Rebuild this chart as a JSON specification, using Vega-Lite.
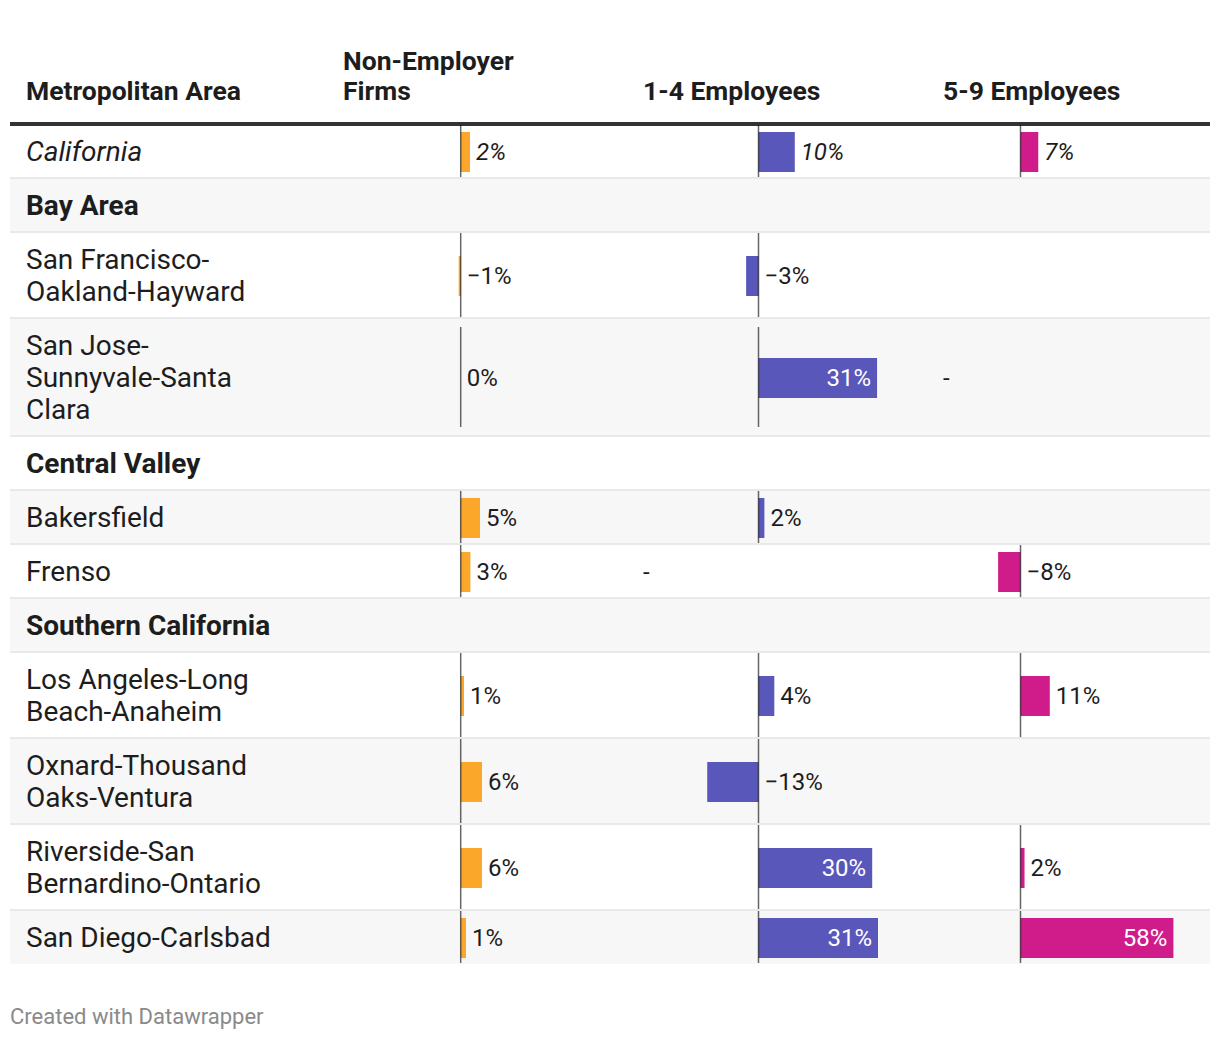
{
  "$schema": "https://vega.github.io/schema/vega-lite/v6.json",
  "background": "white",
  "padding": {"left": 10, "right": 10, "top": 48, "bottom": 6},
  "spacing": 0,
  "title": {"text": "Created with Datawrapper", "orient": "bottom", "anchor": "start", "frame": "bounds", "font": "Roboto", "fontSize": 22, "fontWeight": "normal", "color": "#8a8a8a", "offset": 43},
  "config": {
    "view": {"stroke": null},
    "text": {"font": "Roboto", "fontSize": 24, "color": "#1d1d1d"}
  },
  "data": {"values": [
    {"order": 1, "kind": "state", "label": ["California"], "ne": 0.0245, "e14": 0.0955, "e59": 0.067},
    {"order": 2, "kind": "region", "label": ["Bay Area"]},
    {"order": 3, "kind": "metro", "label": ["San Francisco-", "Oakland-Hayward"], "ne": -0.0053, "e14": -0.0326},
    {"order": 4, "kind": "metro", "label": ["San Jose-", "Sunnyvale-Santa", "Clara"], "ne": 0, "e14": 0.312, "e59_note": "-"},
    {"order": 5, "kind": "region", "label": ["Central Valley"]},
    {"order": 6, "kind": "metro", "label": ["Bakersfield"], "ne": 0.0508, "e14": 0.0155},
    {"order": 7, "kind": "metro", "label": ["Frenso"], "ne": 0.0255, "e14_note": "-", "e59": -0.0845},
    {"order": 8, "kind": "region", "label": ["Southern California"]},
    {"order": 9, "kind": "metro", "label": ["Los Angeles-Long", "Beach-Anaheim"], "ne": 0.0087, "e14": 0.0416, "e59": 0.1106},
    {"order": 10, "kind": "metro", "label": ["Oxnard-Thousand", "Oaks-Ventura"], "ne": 0.056, "e14": -0.1349},
    {"order": 11, "kind": "metro", "label": ["Riverside-San", "Bernardino-Ontario"], "ne": 0.056, "e14": 0.2992, "e59": 0.0152},
    {"order": 12, "kind": "metro", "label": ["San Diego-Carlsbad"], "ne": 0.0139, "e14": 0.3145, "e59": 0.577}
  ]},
  "transform": [
    {"calculate": "22 + 32 * length(datum.label)", "as": "h"},
    {"window": [{"op": "sum", "field": "h", "as": "bottom"}], "sort": [{"field": "order", "order": "ascending"}], "frame": [null, 0]},
    {"calculate": "datum.bottom - datum.h", "as": "top"},
    {"calculate": "datum.bottom - datum.h / 2", "as": "mid"},
    {"calculate": "datum.mid - (length(datum.label) - 1) * 16", "as": "ly"},
    {"calculate": "datum.mid - 20", "as": "b1"},
    {"calculate": "datum.mid + 20", "as": "b2"},
    {"calculate": "max(datum.top + 1, datum.mid - 50)", "as": "a1"},
    {"calculate": "min(datum.bottom - 1, datum.mid + 50)", "as": "a2"}
  ],
  "hconcat": [
    {
      "width": 317, "height": 840,
      "title": {"text": [" ", "Metropolitan Area"], "anchor": "start", "frame": "group", "dx": 16, "baseline": "bottom", "lineHeight": 30, "offset": -10, "font": "Roboto", "fontSize": 26.5, "fontWeight": "bold", "color": "#1d1d1d"},
      "layer": [
        {"transform": [{"filter": "datum.order % 2 === 0"}], "mark": {"type": "rect", "color": "#f7f7f7"}, "encoding": {"y": {"field": "top", "type": "quantitative", "scale": {"domain": [0, 840], "reverse": true, "nice": false, "zero": false}, "axis": null}, "y2": {"field": "bottom"}, "x": {"value": 0}, "x2": {"value": "width"}}},
        {"transform": [{"filter": "datum.order > 1"}], "mark": {"type": "rect", "color": "#e9e9e9", "yOffset": -1, "y2Offset": 1}, "encoding": {"y": {"field": "top", "type": "quantitative", "axis": null}, "y2": {"field": "top"}, "x": {"value": 0}, "x2": {"value": "width"}}},
        {"transform": [{"filter": "datum.order === 1"}], "mark": {"type": "rect", "color": "#333333", "yOffset": -2, "y2Offset": 2}, "encoding": {"y": {"datum": 0, "type": "quantitative", "axis": null}, "y2": {"datum": 0}, "x": {"value": 0}, "x2": {"value": "width"}}},
        {"mark": {"type": "text", "align": "left", "baseline": "middle", "dx": 16, "dy": 2, "fontSize": 28, "lineHeight": 32, "fontStyle": {"expr": "datum.kind === 'state' ? 'italic' : 'normal'"}, "fontWeight": {"expr": "datum.kind === 'region' ? 'bold' : 'normal'"}},
         "encoding": {"x": {"value": 0}, "y": {"field": "ly", "type": "quantitative", "axis": null}, "text": {"field": "label", "type": "nominal"}}}
      ]
    },
    {
      "width": 300, "height": 840,
      "title": {"text": ["Non-Employer", "Firms"], "anchor": "start", "frame": "group", "dx": 16, "baseline": "bottom", "lineHeight": 30, "offset": -10, "font": "Roboto", "fontSize": 26.5, "fontWeight": "bold", "color": "#1d1d1d"},
      "layer": [
        {"transform": [{"filter": "datum.order % 2 === 0"}], "mark": {"type": "rect", "color": "#f7f7f7"}, "encoding": {"y": {"field": "top", "type": "quantitative", "scale": {"domain": [0, 840], "reverse": true, "nice": false, "zero": false}, "axis": null}, "y2": {"field": "bottom"}, "x": {"value": 0}, "x2": {"value": "width"}}},
        {"transform": [{"filter": "datum.order > 1"}], "mark": {"type": "rect", "color": "#e9e9e9", "yOffset": -1, "y2Offset": 1}, "encoding": {"y": {"field": "top", "type": "quantitative", "axis": null}, "y2": {"field": "top"}, "x": {"value": 0}, "x2": {"value": "width"}}},
        {"transform": [{"filter": "datum.order === 1"}], "mark": {"type": "rect", "color": "#333333", "yOffset": -2, "y2Offset": 2}, "encoding": {"y": {"datum": 0, "type": "quantitative", "axis": null}, "y2": {"datum": 0}, "x": {"value": 0}, "x2": {"value": "width"}}},
        {"transform": [{"filter": "isValid(datum.ne)"}], "mark": {"type": "rect", "color": "#fba72a", "yOffset": 1, "y2Offset": 1},
         "encoding": {"x": {"field": "ne", "type": "quantitative", "scale": {"domain": [-0.35184, 0.43763], "nice": false, "zero": false}, "axis": null}, "x2": {"datum": 0}, "y": {"field": "b1", "type": "quantitative", "axis": null}, "y2": {"field": "b2"}}},
        {"transform": [{"filter": "isValid(datum.ne)"}], "mark": {"type": "rule", "color": "#000000", "opacity": 0.6, "strokeWidth": 1.5},
         "encoding": {"x": {"datum": 0, "type": "quantitative", "axis": null}, "y": {"field": "a1", "type": "quantitative", "axis": null}, "y2": {"field": "a2"}}},
        {"transform": [{"filter": "isValid(datum.ne) && datum.ne > 0 && datum.ne < 0.2"}], "mark": {"type": "text", "align": "left", "baseline": "middle", "dx": 6, "dy": 2, "fontStyle": {"expr": "datum.kind === 'state' ? 'italic' : 'normal'"}},
         "encoding": {"x": {"field": "ne", "type": "quantitative", "axis": null}, "y": {"field": "mid", "type": "quantitative", "axis": null}, "text": {"field": "ne", "type": "quantitative", "format": ".0%"}}},
        {"transform": [{"filter": "isValid(datum.ne) && datum.ne <= 0"}], "mark": {"type": "text", "align": "left", "baseline": "middle", "dx": 6, "dy": 2, "fontStyle": {"expr": "datum.kind === 'state' ? 'italic' : 'normal'"}},
         "encoding": {"x": {"datum": 0, "type": "quantitative", "axis": null}, "y": {"field": "mid", "type": "quantitative", "axis": null}, "text": {"field": "ne", "type": "quantitative", "format": ".0%"}}}
      ]
    },
    {
      "width": 300, "height": 840,
      "title": {"text": [" ", "1-4 Employees"], "anchor": "start", "frame": "group", "dx": 16, "baseline": "bottom", "lineHeight": 30, "offset": -10, "font": "Roboto", "fontSize": 26.5, "fontWeight": "bold", "color": "#1d1d1d"},
      "layer": [
        {"transform": [{"filter": "datum.order % 2 === 0"}], "mark": {"type": "rect", "color": "#f7f7f7"}, "encoding": {"y": {"field": "top", "type": "quantitative", "scale": {"domain": [0, 840], "reverse": true, "nice": false, "zero": false}, "axis": null}, "y2": {"field": "bottom"}, "x": {"value": 0}, "x2": {"value": "width"}}},
        {"transform": [{"filter": "datum.order > 1"}], "mark": {"type": "rect", "color": "#e9e9e9", "yOffset": -1, "y2Offset": 1}, "encoding": {"y": {"field": "top", "type": "quantitative", "axis": null}, "y2": {"field": "top"}, "x": {"value": 0}, "x2": {"value": "width"}}},
        {"transform": [{"filter": "datum.order === 1"}], "mark": {"type": "rect", "color": "#333333", "yOffset": -2, "y2Offset": 2}, "encoding": {"y": {"datum": 0, "type": "quantitative", "axis": null}, "y2": {"datum": 0}, "x": {"value": 0}, "x2": {"value": "width"}}},
        {"transform": [{"filter": "isValid(datum.e14)"}], "mark": {"type": "rect", "color": "#5a57bb", "yOffset": 1, "y2Offset": 1},
         "encoding": {"x": {"field": "e14", "type": "quantitative", "scale": {"domain": [-0.34605, 0.44342], "nice": false, "zero": false}, "axis": null}, "x2": {"datum": 0}, "y": {"field": "b1", "type": "quantitative", "axis": null}, "y2": {"field": "b2"}}},
        {"transform": [{"filter": "isValid(datum.e14)"}], "mark": {"type": "rule", "color": "#000000", "opacity": 0.6, "strokeWidth": 1.5},
         "encoding": {"x": {"datum": 0, "type": "quantitative", "axis": null}, "y": {"field": "a1", "type": "quantitative", "axis": null}, "y2": {"field": "a2"}}},
        {"transform": [{"filter": "isValid(datum.e14) && datum.e14 > 0 && datum.e14 < 0.2"}], "mark": {"type": "text", "align": "left", "baseline": "middle", "dx": 6, "dy": 2, "fontStyle": {"expr": "datum.kind === 'state' ? 'italic' : 'normal'"}},
         "encoding": {"x": {"field": "e14", "type": "quantitative", "axis": null}, "y": {"field": "mid", "type": "quantitative", "axis": null}, "text": {"field": "e14", "type": "quantitative", "format": ".0%"}}},
        {"transform": [{"filter": "isValid(datum.e14) && datum.e14 <= 0"}], "mark": {"type": "text", "align": "left", "baseline": "middle", "dx": 6, "dy": 2, "fontStyle": {"expr": "datum.kind === 'state' ? 'italic' : 'normal'"}},
         "encoding": {"x": {"datum": 0, "type": "quantitative", "axis": null}, "y": {"field": "mid", "type": "quantitative", "axis": null}, "text": {"field": "e14", "type": "quantitative", "format": ".0%"}}},
        {"transform": [{"filter": "isValid(datum.e14) && datum.e14 >= 0.2"}], "mark": {"type": "text", "align": "right", "baseline": "middle", "dx": -6, "dy": 2, "color": "white"},
         "encoding": {"x": {"field": "e14", "type": "quantitative", "axis": null}, "y": {"field": "mid", "type": "quantitative", "axis": null}, "text": {"field": "e14", "type": "quantitative", "format": ".0%"}}},
        {"transform": [{"filter": "datum.e14_note === '-'"}], "mark": {"type": "text", "align": "left", "baseline": "middle", "dx": 16, "dy": 2},
         "encoding": {"x": {"value": 0}, "y": {"field": "mid", "type": "quantitative", "axis": null}, "text": {"field": "e14_note", "type": "nominal"}}}
      ]
    },
    {
      "width": 283, "height": 840,
      "title": {"text": [" ", "5-9 Employees"], "anchor": "start", "frame": "group", "dx": 16, "baseline": "bottom", "lineHeight": 30, "offset": -10, "font": "Roboto", "fontSize": 26.5, "fontWeight": "bold", "color": "#1d1d1d"},
      "layer": [
        {"transform": [{"filter": "datum.order % 2 === 0"}], "mark": {"type": "rect", "color": "#f7f7f7"}, "encoding": {"y": {"field": "top", "type": "quantitative", "scale": {"domain": [0, 840], "reverse": true, "nice": false, "zero": false}, "axis": null}, "y2": {"field": "bottom"}, "x": {"value": 0}, "x2": {"value": "width"}}},
        {"transform": [{"filter": "datum.order > 1"}], "mark": {"type": "rect", "color": "#e9e9e9", "yOffset": -1, "y2Offset": 1}, "encoding": {"y": {"field": "top", "type": "quantitative", "axis": null}, "y2": {"field": "top"}, "x": {"value": 0}, "x2": {"value": "width"}}},
        {"transform": [{"filter": "datum.order === 1"}], "mark": {"type": "rect", "color": "#333333", "yOffset": -2, "y2Offset": 2}, "encoding": {"y": {"datum": 0, "type": "quantitative", "axis": null}, "y2": {"datum": 0}, "x": {"value": 0}, "x2": {"value": "width"}}},
        {"transform": [{"filter": "isValid(datum.e59)"}], "mark": {"type": "rect", "color": "#d01c8b", "yOffset": 1, "y2Offset": 1},
         "encoding": {"x": {"field": "e59", "type": "quantitative", "scale": {"domain": [-0.35283, 0.71509], "nice": false, "zero": false}, "axis": null}, "x2": {"datum": 0}, "y": {"field": "b1", "type": "quantitative", "axis": null}, "y2": {"field": "b2"}}},
        {"transform": [{"filter": "isValid(datum.e59)"}], "mark": {"type": "rule", "color": "#000000", "opacity": 0.6, "strokeWidth": 1.5},
         "encoding": {"x": {"datum": 0, "type": "quantitative", "axis": null}, "y": {"field": "a1", "type": "quantitative", "axis": null}, "y2": {"field": "a2"}}},
        {"transform": [{"filter": "isValid(datum.e59) && datum.e59 > 0 && datum.e59 < 0.2"}], "mark": {"type": "text", "align": "left", "baseline": "middle", "dx": 6, "dy": 2, "fontStyle": {"expr": "datum.kind === 'state' ? 'italic' : 'normal'"}},
         "encoding": {"x": {"field": "e59", "type": "quantitative", "axis": null}, "y": {"field": "mid", "type": "quantitative", "axis": null}, "text": {"field": "e59", "type": "quantitative", "format": ".0%"}}},
        {"transform": [{"filter": "isValid(datum.e59) && datum.e59 <= 0"}], "mark": {"type": "text", "align": "left", "baseline": "middle", "dx": 6, "dy": 2, "fontStyle": {"expr": "datum.kind === 'state' ? 'italic' : 'normal'"}},
         "encoding": {"x": {"datum": 0, "type": "quantitative", "axis": null}, "y": {"field": "mid", "type": "quantitative", "axis": null}, "text": {"field": "e59", "type": "quantitative", "format": ".0%"}}},
        {"transform": [{"filter": "isValid(datum.e59) && datum.e59 >= 0.2"}], "mark": {"type": "text", "align": "right", "baseline": "middle", "dx": -6, "dy": 2, "color": "white"},
         "encoding": {"x": {"field": "e59", "type": "quantitative", "axis": null}, "y": {"field": "mid", "type": "quantitative", "axis": null}, "text": {"field": "e59", "type": "quantitative", "format": ".0%"}}},
        {"transform": [{"filter": "datum.e59_note === '-'"}], "mark": {"type": "text", "align": "left", "baseline": "middle", "dx": 16, "dy": 2},
         "encoding": {"x": {"value": 0}, "y": {"field": "mid", "type": "quantitative", "axis": null}, "text": {"field": "e59_note", "type": "nominal"}}}
      ]
    }
  ]
}
